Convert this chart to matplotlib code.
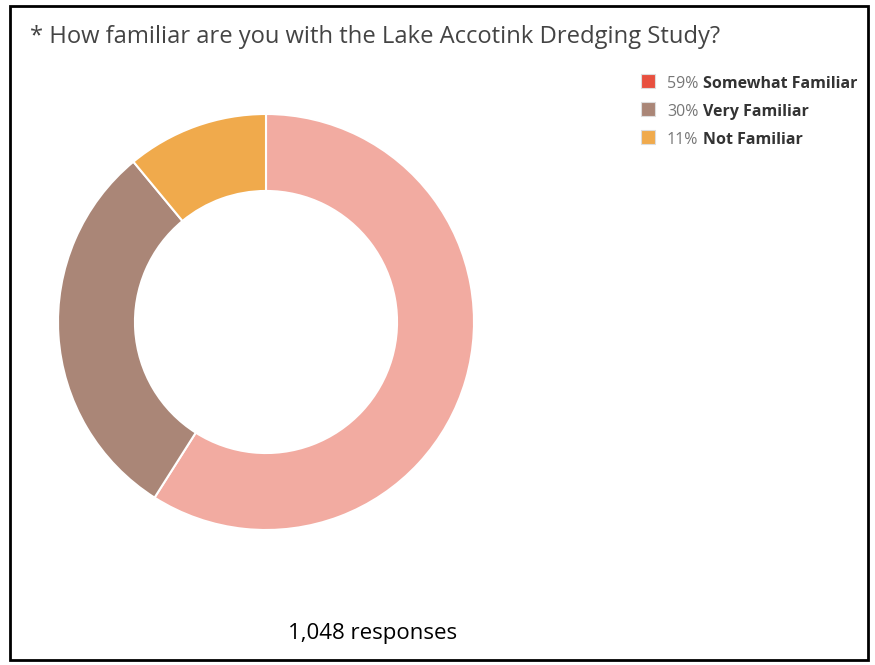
import matplotlib
matplotlib.use("Agg")
import matplotlib.pyplot as plt
from matplotlib.patches import Rectangle

title = "* How familiar are you with the Lake Accotink Dredging Study?"
labels = ["Somewhat Familiar", "Very Familiar", "Not Familiar"]
percents = [59, 30, 11]
wedge_colors = ["#F2ABA1", "#AA8677", "#F0AA4C"]
swatch_colors = ["#E8503F", "#AA8677", "#F0AA4C"]
responses = "1,048 responses"

W, H = 875, 665
fig = plt.figure(figsize=(W / 100, H / 100), dpi=100)
fig.patch.set_facecolor("white")

def fx(px):
    return px / W

def fy(py):
    return 1 - py / H

# Border
fig.add_artist(Rectangle((fx(10), fy(660)), fx(868) - fx(10), fy(6) - fy(660),
                         transform=fig.transFigure, fill=False, edgecolor="black", lw=2))

# Donut
cx, cy, r = 266, 322, 208
ax = fig.add_axes([fx(cx - r), fy(cy + r), 2 * r / W, 2 * r / H])
ax.pie(percents, colors=wedge_colors, startangle=90, counterclock=False,
       radius=1.0, wedgeprops=dict(width=0.37, edgecolor="white", linewidth=1.5))
ax.set_xlim(-1, 1)
ax.set_ylim(-1, 1)
ax.set_aspect("equal")
ax.axis("off")

# Title
fig.text(fx(30), fy(37), title, fontsize=17.1, family="Open Sans", color="#444444",
         ha="left", va="center")

# Legend
renderer = fig.canvas.get_renderer()
row_y = [82, 110, 138]
fs = 11.5
for lab, pct, col, yy in zip(labels, percents, swatch_colors, row_y):
    fig.add_artist(Rectangle((fx(641), fy(yy + 6)), 14 / W, 14 / H,
                             transform=fig.transFigure, facecolor=col,
                             edgecolor="#dddddd", lw=0.8))
    t = fig.text(fx(667), fy(yy + 6), f"{pct}%", fontsize=fs, family="Open Sans",
                 color="#777777", ha="left", va="baseline")
    bb = t.get_window_extent(renderer=renderer)
    fig.text(fx(bb.x1 + 5), fy(yy + 6), lab, fontsize=fs, family="Open Sans",
             fontweight="bold", color="#333333", ha="left", va="baseline")

fig.text(fx(373), fy(633), responses, fontsize=16, family="Open Sans",
         color="black", ha="center", va="center")

fig.savefig("out.png", dpi=100, facecolor="white")
